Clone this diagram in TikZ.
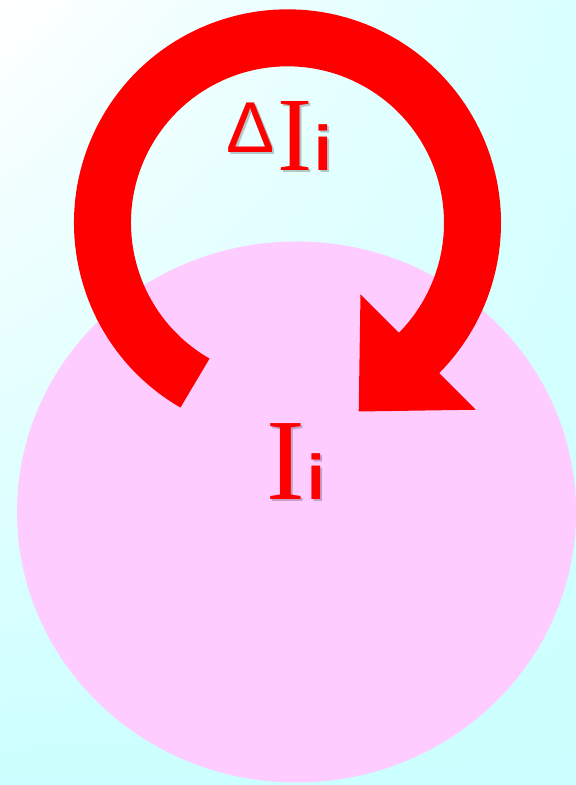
\documentclass[tikz,border=0pt]{standalone}
\usepackage{fontspec}
\setmainfont{Liberation Serif}
\newfontfamily\labelsans{Liberation Sans}
\usepackage{tikz}
\usetikzlibrary{calc, shadings}
\usepackage{xcolor}
\definecolor{loopred}{HTML}{FF0000}
\definecolor{diskpink}{HTML}{FFCCFF}
\definecolor{bgcyan}{HTML}{CCFFFF}

\newcommand{\labdeltaI}{%
  \raisebox{0.37cm}{\fontsize{41}{41}\selectfont\labelsans Δ}%
  \hspace{0.06cm}{\fontsize{60}{60}\selectfont I}%
  \hspace{0.04cm}{\fontsize{36}{36}\selectfont\labelsans\bfseries i}}
\newcommand{\labI}{%
  {\fontsize{66}{66}\selectfont I}%
  \hspace{0.04cm}{\fontsize{36}{36}\selectfont\labelsans\bfseries i}}

\tikzset{
  labeltext/.style={text=loopred, inner sep=0pt, anchor=base},
  labelshadow/.style={text=black, opacity=0.22, inner sep=0pt, anchor=base},
  loopline/.style={draw=loopred, line width=1.14cm, line cap=butt},
}

\begin{document}
\begin{tikzpicture}
  % background
  \shade[upper left=white, upper right=bgcyan!75, lower left=bgcyan, lower right=bgcyan]
    (0,0) rectangle (11.52,15.70);
  \useasboundingbox (0,0) rectangle (11.52,15.70);

  % disk
  \fill[diskpink] (5.93,5.46) ellipse[x radius=5.59, y radius=5.41];

  % loop arrow
  \coordinate (loopc) at (5.76,11.26);
  \coordinate (tail) at ($(loopc)+(240:3.72)$);
  \coordinate (head) at ($(loopc)+(-45:3.68)$);
  \draw[loopline] (tail) arc[start angle=240, end angle=-45, radius=3.70cm];
  \fill[loopred] ($(head)+(135:1.63)$) -- ($(head)+(-45:1.63)$)
    -- ($(head)+(-135:1.68)$) -- cycle;

  % labels
  \node[labelshadow] at (5.62,12.24) {\labdeltaI};
  \node[labeltext] (dI) at (5.58,12.28) {\labdeltaI};
  \node[labelshadow] at (5.96,5.67) {\labI};
  \node[labeltext] (I) at (5.92,5.71) {\labI};
\end{tikzpicture}
\end{document}
